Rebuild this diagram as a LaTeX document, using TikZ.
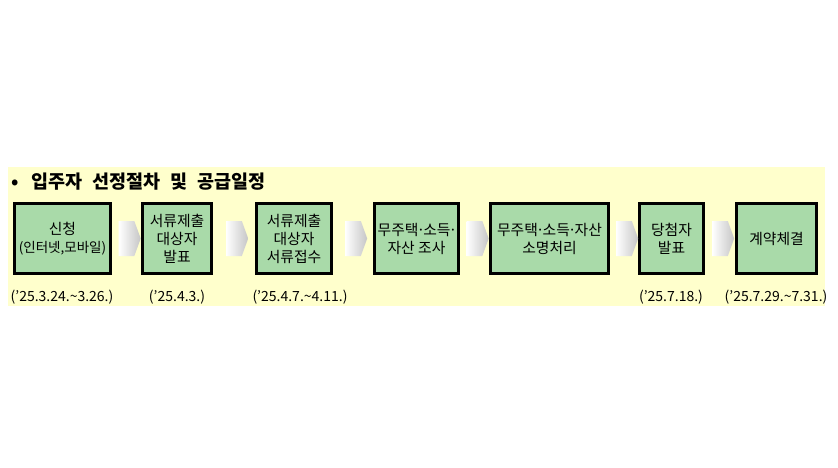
\documentclass[tikz,border=0pt]{standalone}
\usepackage{fontspec}
\setmainfont{Noto Sans CJK KR}
\usepackage{tikz}
\usetikzlibrary{calc, shapes.symbols}

\definecolor{bgyellow}{RGB}{255,255,204}
\definecolor{boxgreen}{RGB}{169,218,169}

% schmaler Mittelpunkt
\newcommand{\mdot}{\kern-0.12em·\kern-0.12em}

\tikzset{
    stepbox/.style={draw=black, line width=2.6pt, fill=boxgreen, align=center,
        inner sep=0pt, minimum height=70.5pt,
        font=\fontsize{14.8}{18}\selectfont},
    chev/.style={signal, signal to=east, signal from=nowhere,
        signal pointer angle=140, minimum width=22pt, minimum height=35pt,
        inner sep=0pt, draw=none, left color=white, right color=gray!45},
    datetxt/.style={font=\fontsize{14}{16}\selectfont, inner sep=0pt}
}

\begin{document}
\begin{tikzpicture}[x=1pt, y=-1pt]
    \useasboundingbox (0,0) rectangle (838,468);

    % Hintergrund
    \fill[bgyellow] (8,167) rectangle (825,306);

    % Titel
    \node[anchor=west, font=\bfseries\fontsize{18.5}{20}\selectfont, inner sep=0pt]
        (titel) at (11,182) {•\hspace{13pt}입주자\hspace{10pt}선정절차\hspace{10pt}및\hspace{10pt}공급일정};

    % Schritte
    \node[stepbox, minimum width=96.5pt] (s1) at (62.5,238.5)
        {신청\\{\fontsize{13.5}{18}\selectfont(인터넷,모바일)}};
    \node[stepbox, minimum width=69.5pt] (s2) at (177,238.5) {서류제출\\대상자\\발표};
    \node[stepbox, minimum width=75.5pt] (s3) at (294,238.5) {서류제출\\대상자\\서류접수};
    \node[stepbox, minimum width=84.5pt] (s4) at (416.5,238.5) {무주택\mdot 소득\mdot\\자산 조사};
    \node[stepbox, minimum width=118.5pt] (s5) at (549.5,238.5) {무주택\mdot 소득\mdot 자산\\소명처리};
    \node[stepbox, minimum width=64.5pt] (s6) at (671.5,238.5) {당첨자\\발표};
    \node[stepbox, minimum width=80.5pt] (s7) at (776.5,238.5) {계약체결};

    % Pfeile zwischen den Schritten
    \foreach \a/\b in {s1/s2, s2/s3, s3/s4, s4/s5, s5/s6, s6/s7}{
        \node[chev] (p-\a) at ($(\a.east)!0.5!(\b.west)$) {};
    }

    % Termine
    \node[datetxt] (d1) at (62,297) {(’25.3.24.\textasciitilde 3.26.)};
    \node[datetxt] (d2) at (177,297) {(’25.4.3.)};
    \node[datetxt] (d3) at (300,297) {(’25.4.7.\textasciitilde 4.11.)};
    \node[datetxt] (d6) at (671,297) {(’25.7.18.)};
    \node[datetxt] (d7) at (776,297) {(’25.7.29.\textasciitilde 7.31.)};
\end{tikzpicture}
\end{document}
